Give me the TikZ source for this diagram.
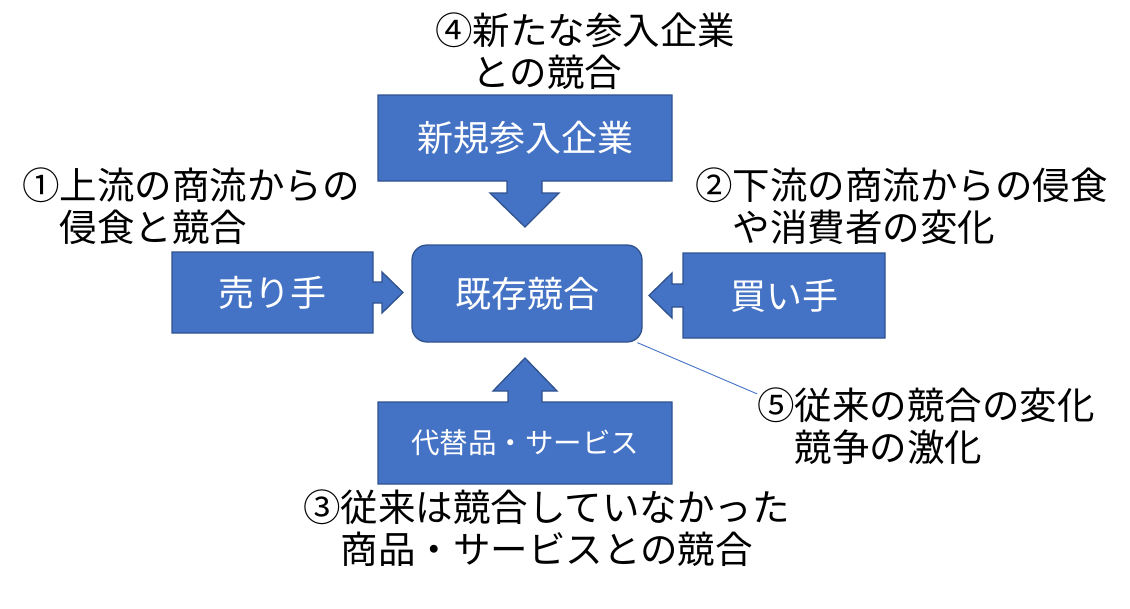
\documentclass[tikz,border=0pt]{standalone}
\usepackage{fontspec}
\setmainfont{Noto Sans CJK JP}
\usetikzlibrary{calc}
\definecolor{obfill}{HTML}{4472C4}
\definecolor{obline}{HTML}{2F528F}
\definecolor{connblue}{HTML}{4472C4}
\tikzset{
  callout/.style={fill=obfill, draw=obline, line width=1.3pt, line join=miter},
  boxtext/.style={text=white, inner sep=0pt, font=\fontsize{36}{40}\selectfont},
  smalltext/.style={text=white, inner sep=0pt, font=\fontsize{28.5}{32}\selectfont},
  lbl/.style={align=left, anchor=west, inner sep=0pt, font=\fontsize{37.5}{42}\selectfont},
  conn/.style={draw=connblue, line width=0.9pt}
}
\begin{document}
\begin{tikzpicture}[x=1pt,y=-1pt]
\useasboundingbox (0,0) rectangle (1130,608);

% top callout: new entrants
\draw[callout] (378,95) -- (672,95) -- (672,181) -- (542,181) -- (542,193) -- (559,193)
  -- (525,227) -- (490,193) -- (507,193) -- (507,181) -- (378,181) -- cycle;
\node[boxtext] (new) at (525,138) {新規参入企業};

% left callout: sellers
\draw[callout] (172,252) -- (373,252) -- (373,282) -- (382,282) -- (382,272)
  -- (403,292.5) -- (382,313) -- (382,303) -- (373,303) -- (373,333) -- (172,333) -- cycle;
\node[boxtext] (sell) at (272,292.5) {売り手};

% right callout: buyers
\draw[callout] (885,253) -- (683,253) -- (683,284) -- (672,284) -- (672,273)
  -- (649,295.5) -- (672,318) -- (672,307) -- (683,307) -- (683,338) -- (885,338) -- cycle;
\node[boxtext] (buy) at (784,295.5) {買い手};

% bottom callout: substitutes
\draw[callout] (378,484) -- (672,484) -- (672,402) -- (542,402) -- (542,391) -- (557,391)
  -- (525,358) -- (493,391) -- (508,391) -- (508,402) -- (378,402) -- cycle;
\node[smalltext] (sub) at (525,443) {代替品・サービス};

% center
\node[draw=obline, fill=obfill, line width=1.3pt, rounded corners=15pt,
  minimum width=230pt, minimum height=97pt, inner sep=0pt,
  text=white, font=\fontsize{36}{40}\selectfont] (ex) at (527,293.5) {既存競合};

% labels
\node[lbl] (l4) at (435,51.5) {④新たな参入企業\\　との競合};
\node[lbl] (l1) at (22,206.5) {①上流の商流からの\\　侵食と競合};
\node[lbl] (l2) at (695,206.5) {②下流の商流からの侵食\\　や消費者の変化};
\node[lbl] (l3) at (303,528) {③従来は競合していなかった\\　商品・サービスとの競合};
\node[lbl] (l5) at (757,426.5) {⑤従来の競合の変化\\　競争の激化};

\draw[conn] (ex.-24) -- ($(l5.north west)+(0,6)$);
\end{tikzpicture}
\end{document}
